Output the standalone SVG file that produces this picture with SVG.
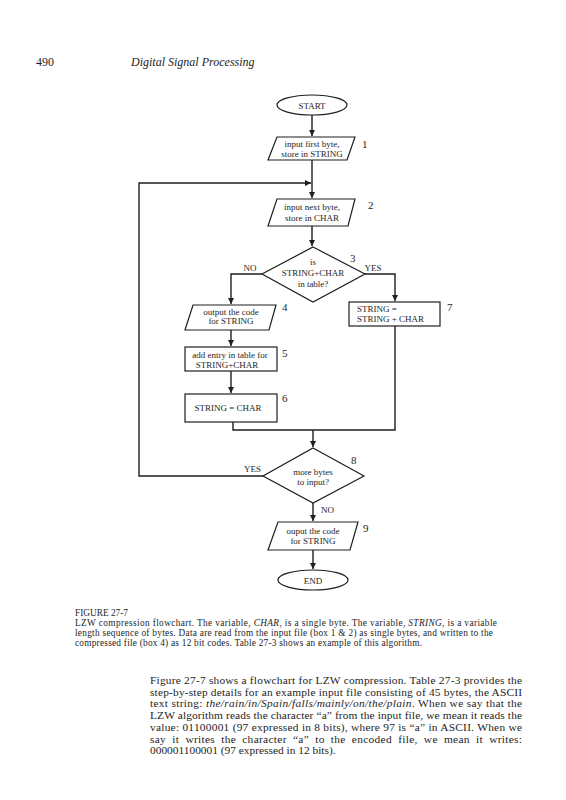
<svg xmlns="http://www.w3.org/2000/svg" width="566" height="800" viewBox="0 0 566 800">
<style>
text{font-family:"Liberation Serif","Times New Roman",serif;fill:#1e1e1e}
.n{font-size:9px;text-anchor:middle}
.l{font-size:9px}
.num{font-size:11px}
.sh{fill:#fff;stroke:#1e1e1e;stroke-width:1.2}
.c{fill:none;stroke:#1e1e1e;stroke-width:1.4}
.cap{font-size:9.3px}
.p{font-size:11.4px}
.i{font-style:italic}
</style>
<defs>
<marker id="ah" markerWidth="6" markerHeight="6" refX="6" refY="3" orient="auto" markerUnits="userSpaceOnUse">
<path d="M0,0 L6,3 L0,6 Z" fill="#1e1e1e"/>
</marker>
</defs>
<rect width="566" height="800" fill="#fff"/>
<text x="36" y="66" style="font-size:12px">490</text>
<text x="131" y="66" class="i" style="font-size:12px">Digital Signal Processing</text>

<g id="connectors">
<path class="c" d="M312,115 V136" marker-end="url(#ah)"/>
<path class="c" d="M312,160 V198" marker-end="url(#ah)"/>
<path class="c" d="M263,476 H139 V183 H311" marker-end="url(#ah)"/>
<path class="c" d="M312,226 V246" marker-end="url(#ah)"/>
<path class="c" d="M262,274 H231 V304" marker-end="url(#ah)"/>
<path class="c" d="M365,274 H395 V301" marker-end="url(#ah)"/>
<path class="c" d="M231,330 V346" marker-end="url(#ah)"/>
<path class="c" d="M231,371 V393" marker-end="url(#ah)"/>
<path class="c" d="M233,422 V430 H395 V326"/>
<path class="c" d="M313,430 V447" marker-end="url(#ah)"/>
<path class="c" d="M313,503 V521" marker-end="url(#ah)"/>
<path class="c" d="M313,550 V569" marker-end="url(#ah)"/>
<text x="250" y="271" class="l" text-anchor="middle">NO</text>
<text x="373" y="271" class="l" text-anchor="middle">YES</text>
<text x="261" y="472" class="l" text-anchor="end">YES</text>
<text x="321" y="513" class="l">NO</text>
</g>

<g id="start">
<ellipse class="sh" cx="312" cy="105" rx="35" ry="10"/>
<text x="312" y="108.5" class="n">START</text>
</g>
<g id="box1">
<polygon class="sh" points="277,137 355,137 347,160 268,160"/>
<text x="312" y="147" class="n">input first byte,</text>
<text x="312" y="156.5" class="n">store in STRING</text>
<text x="362" y="148" class="num">1</text>
</g>
<g id="box2">
<polygon class="sh" points="277,199 355,199 348,226 268,226"/>
<text x="312" y="210" class="n">input next byte,</text>
<text x="312" y="220.5" class="n">store in CHAR</text>
<text x="368" y="209" class="num">2</text>
</g>
<g id="box3">
<polygon class="sh" points="313,247 365,274 313,302 262,274"/>
<text x="313" y="265" class="n">is</text>
<text x="313" y="276" class="n">STRING+CHAR</text>
<text x="313" y="287" class="n">in table?</text>
<text x="350" y="262" class="num">3</text>
</g>
<g id="box4">
<polygon class="sh" points="193,305 276,305 269,330 185,330"/>
<text x="231" y="315" class="n">output the code</text>
<text x="231" y="324" class="n">for STRING</text>
<text x="282" y="311" class="num">4</text>
</g>
<g id="box5">
<rect class="sh" x="185" y="347" width="92" height="24"/>
<text x="230" y="358" class="n">add entry in table for</text>
<text x="227" y="367.5" class="n">STRING+CHAR</text>
<text x="282" y="357" class="num">5</text>
</g>
<g id="box6">
<rect class="sh" x="185" y="394" width="92" height="28"/>
<text x="228" y="411" class="n">STRING = CHAR</text>
<text x="282" y="402" class="num">6</text>
</g>
<g id="box7">
<rect class="sh" x="349" y="302" width="91" height="24"/>
<text x="357" y="312" class="l">STRING =</text>
<text x="357" y="322" class="l">STRING + CHAR</text>
<text x="447" y="311" class="num">7</text>
</g>
<g id="box8">
<polygon class="sh" points="313,448 364,476 313,503 263,476"/>
<text x="313" y="475" class="n">more bytes</text>
<text x="313" y="484.5" class="n">to input?</text>
<text x="351" y="464" class="num">8</text>
</g>
<g id="box9">
<polygon class="sh" points="278,522 358,522 350,550 268,550"/>
<text x="313" y="534" class="n">ouput the code</text>
<text x="313" y="544" class="n">for STRING</text>
<text x="363" y="532" class="num">9</text>
</g>
<g id="end">
<ellipse class="sh" cx="313" cy="580" rx="35" ry="10"/>
<text x="313" y="583.5" class="n">END</text>
</g>

<g id="caption">
<text x="75" y="616" class="cap">FIGURE 27-7</text>
<text x="75" y="626" class="cap" textLength="422" lengthAdjust="spacing">LZW compression flowchart.  The variable, <tspan class="i">CHAR</tspan>, is a single byte.  The variable, <tspan class="i">STRING</tspan>, is a variable</text>
<text x="75" y="636" class="cap" textLength="418" lengthAdjust="spacing">length sequence of bytes.  Data are read from the input file (box 1 &amp; 2) as single bytes, and written to the</text>
<text x="75" y="646" class="cap" textLength="347" lengthAdjust="spacing">compressed file (box 4) as 12 bit codes.  Table 27-3 shows an example of this algorithm.</text>
</g>

<g id="paragraph">
<text x="150" y="684" class="p" textLength="372" lengthAdjust="spacing">Figure 27-7 shows a flowchart for LZW compression.  Table 27-3 provides the</text>
<text x="150" y="695.7" class="p" textLength="372" lengthAdjust="spacing">step-by-step details for an example input file consisting of 45 bytes, the ASCII</text>
<text x="150" y="707.4" class="p" textLength="372" lengthAdjust="spacing">text string:  <tspan class="i">the/rain/in/Spain/falls/mainly/on/the/plain</tspan>.  When we say that the</text>
<text x="150" y="719.1" class="p" textLength="372" lengthAdjust="spacing">LZW algorithm reads the character “a” from the input file, we mean it reads the</text>
<text x="150" y="730.8" class="p" textLength="372" lengthAdjust="spacing">value: 01100001 (97 expressed in 8 bits), where 97 is “a” in ASCII.  When we</text>
<text x="150" y="742.5" class="p" textLength="372" lengthAdjust="spacing" word-spacing="3">say it writes the character “a” to the encoded  file, we mean it writes:</text>
<text x="150" y="754.2" class="p">000001100001 (97 expressed in 12 bits).</text>
</g>
</svg>
